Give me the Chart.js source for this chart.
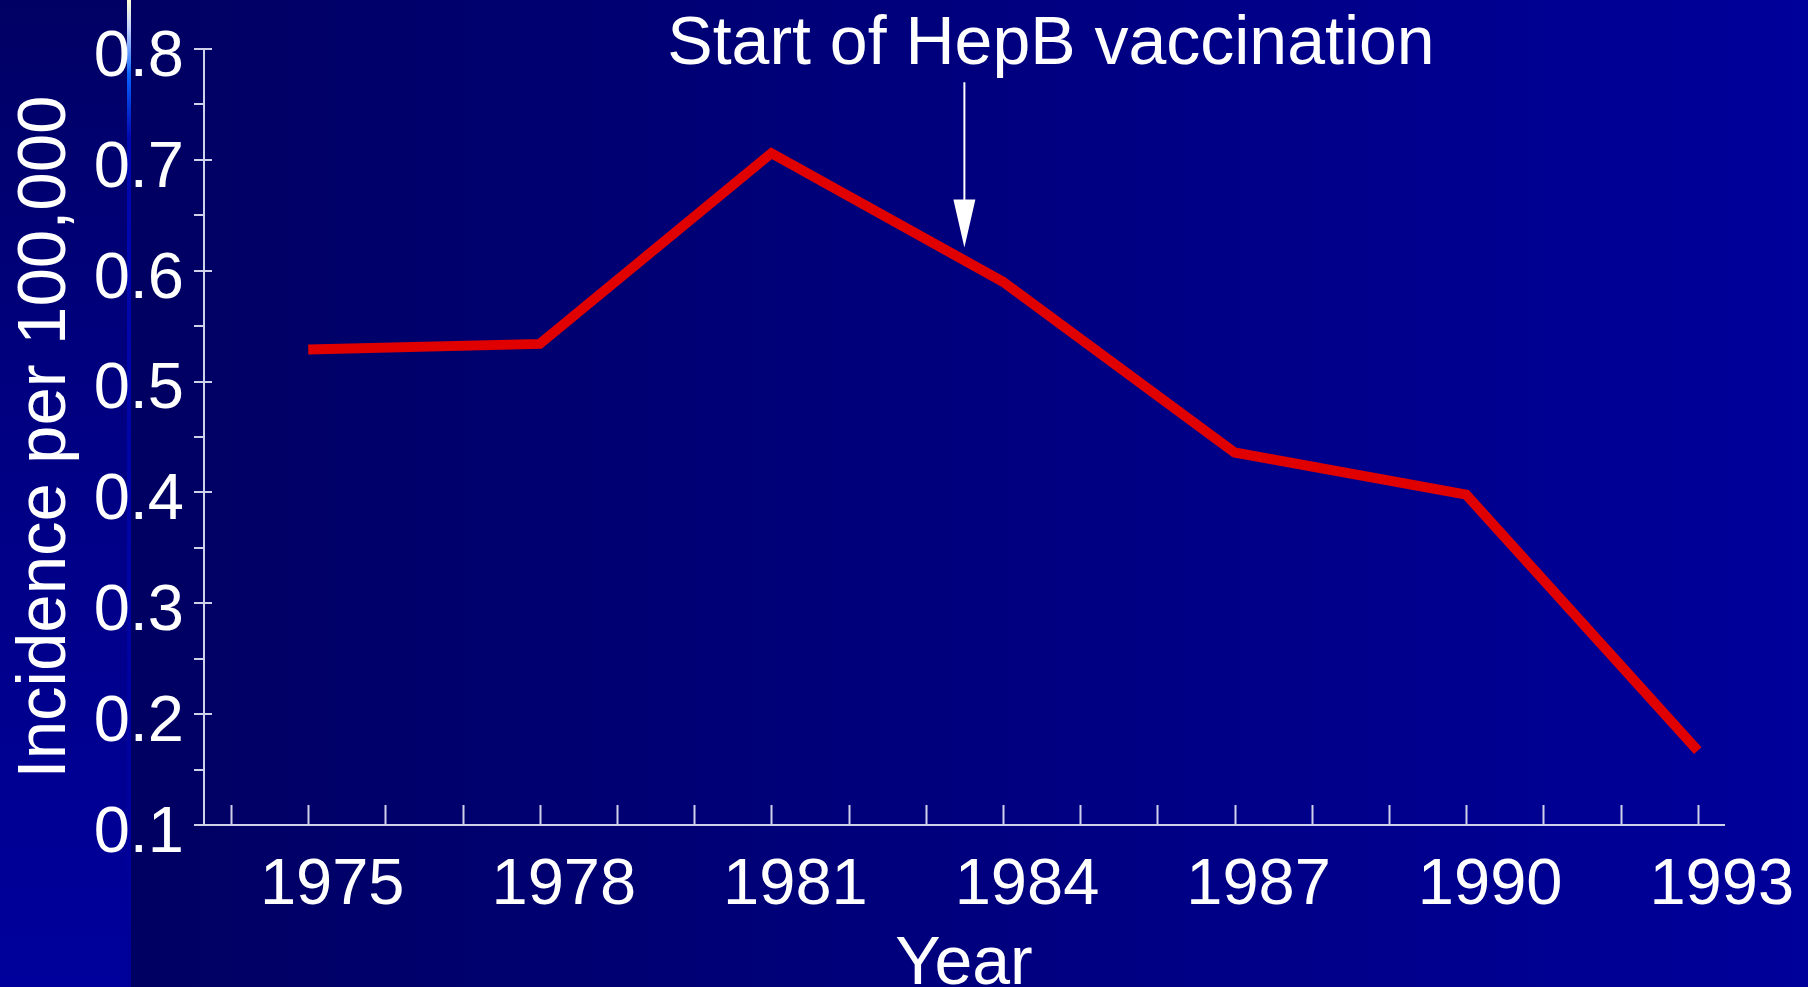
<!DOCTYPE html>
<html>
<head>
<meta charset="utf-8">
<title>Incidence per 100,000</title>
<script src="https://cdn.jsdelivr.net/npm/chart.js@4/dist/chart.umd.min.js"></script>
<style>
  html, body { margin: 0; padding: 0; overflow: hidden; background: #000080; }
  #chart { display: block; }
</style>
</head>
<body>
<canvas id="chart" width="1808" height="987"></canvas>
<script>
// values
const years = [1975, 1978, 1981, 1984, 1987, 1990, 1993];
const incidence = [0.529, 0.534, 0.706, 0.590, 0.436, 0.398, 0.167];
const yTicks = [0.1, 0.2, 0.3, 0.4, 0.5, 0.6, 0.7, 0.8];
const xLabelYears = [1975, 1978, 1981, 1984, 1987, 1990, 1993];

const chartTitle = 'Start of HepB vaccination';
const xTitle = 'Year';
const yTitle = 'Incidence per 100,000';

// the arrow that points at the start of vaccination (in data units)
const arrowYear = 1983.5;
const arrowFrom = 0.770;
const arrowTo = 0.621;

const fontFamily = '"Comic Sans MS", "Liberation Sans", Arial, sans-serif';
const axisColor = '#cfd0ea';

function isMajor(v) {
  return yTicks.some(t => Math.abs(t - v) < 1e-6);
}

// slide background: gradient panel, left band, thin glowing line
const slideBackground = {
  id: 'slideBackground',
  beforeDraw(chart) {
    const ctx = chart.ctx;
    const w = chart.width, h = chart.height;
    ctx.save();
    let g = ctx.createLinearGradient(128, 0, w, 0);
    g.addColorStop(0, '#000062');
    g.addColorStop(1, '#00009a');
    ctx.fillStyle = g;
    ctx.fillRect(0, 0, w, h);

    g = ctx.createLinearGradient(0, 0, 0, h);
    g.addColorStop(0, '#000064');
    g.addColorStop(0.4, '#000080');
    g.addColorStop(1, '#00009c');
    ctx.fillStyle = g;
    ctx.fillRect(0, 0, 127, h);

    g = ctx.createLinearGradient(0, 0, 0, h);
    g.addColorStop(0, '#ffffd8');
    g.addColorStop(0.03, '#c0d0ff');
    g.addColorStop(0.075, '#0a64ff');
    g.addColorStop(0.14, '#0008b0');
    g.addColorStop(1, '#000098');
    ctx.fillStyle = g;
    ctx.fillRect(127, 0, 4, h);
    ctx.restore();
  }
};

// inward tick marks, chart title and arrow
const slideMarks = {
  id: 'slideMarks',
  afterDraw(chart) {
    const ctx = chart.ctx;
    const x = chart.scales.x, y = chart.scales.y;
    ctx.save();
    ctx.strokeStyle = axisColor;
    ctx.lineWidth = 2;
    ctx.beginPath();
    x.ticks.forEach(t => {
      if (t.value < x.min || t.value > x.max) return;
      const px = Math.round(x.getPixelForValue(t.value)) + 0.5;
      ctx.moveTo(px, x.top);
      ctx.lineTo(px, x.top - 20);
    });
    y.ticks.forEach(t => {
      if (!isMajor(t.value)) return;
      const py = Math.round(y.getPixelForValue(t.value));
      ctx.moveTo(y.right, py);
      ctx.lineTo(y.right + 8, py);
    });
    ctx.stroke();

    // title
    ctx.fillStyle = '#ffffff';
    ctx.font = '68px ' + fontFamily;
    ctx.textAlign = 'center';
    ctx.textBaseline = 'alphabetic';
    ctx.fillText(chartTitle, 1051, 64);

    // arrow
    const ax = x.getPixelForValue(arrowYear);
    const y0 = y.getPixelForValue(arrowFrom);
    const y1 = y.getPixelForValue(arrowTo);
    ctx.strokeStyle = '#ffffff';
    ctx.lineWidth = 2;
    ctx.beginPath();
    ctx.moveTo(ax, y0);
    ctx.lineTo(ax, y1 - 40);
    ctx.stroke();
    ctx.beginPath();
    ctx.moveTo(ax - 11, y1 - 48);
    ctx.lineTo(ax + 11, y1 - 48);
    ctx.lineTo(ax, y1);
    ctx.closePath();
    ctx.fill();
    ctx.restore();
  }
};

new Chart(document.getElementById('chart'), {
  type: 'line',
  data: {
    datasets: [{
      data: years.map((yr, i) => ({ x: yr, y: incidence[i] })),
      borderColor: '#e00000',
      borderWidth: 10,
      borderJoinStyle: 'miter',
      borderCapStyle: 'butt',
      pointRadius: 0,
      tension: 0,
      fill: false
    }]
  },
  options: {
    responsive: false,
    animation: false,
    events: [],
    layout: { padding: { top: 49, right: 84, left: 0, bottom: 0 } },
    plugins: {
      legend: { display: false },
      tooltip: { enabled: false }
    },
    scales: {
      x: {
        type: 'linear',
        min: 1973.65,
        max: 1993.34,
        afterFit: s => { s.height = 162; },
        grid: { display: false },
        border: { display: true, color: axisColor, width: 2 },
        ticks: {
          stepSize: 1,
          includeBounds: false,
          autoSkip: false,
          maxRotation: 0,
          padding: 14,
          labelOffset: 24,
          color: '#ffffff',
          font: { family: fontFamily, size: 65 },
          callback: v => xLabelYears.includes(v) ? String(v) : ''
        },
        title: {
          display: true,
          text: xTitle,
          color: '#ffffff',
          font: { family: fontFamily, size: 68, lineHeight: 1 },
          padding: { top: 0, bottom: -12 }
        }
      },
      y: {
        min: 0.1,
        max: 0.8,
        afterFit: s => { s.width = 204; },
        grid: { drawOnChartArea: false, tickLength: 10, color: axisColor, lineWidth: 2 },
        border: { display: true, color: axisColor, width: 2 },
        ticks: {
          stepSize: 0.05,
          autoSkip: false,
          padding: 10,
          labelOffset: 9,
          color: '#ffffff',
          font: { family: fontFamily, size: 65 },
          callback: v => isMajor(v) ? v.toFixed(1) : ''
        },
        title: {
          display: true,
          text: yTitle,
          color: '#ffffff',
          font: { family: fontFamily, size: 69, lineHeight: 1.2 },
          padding: { top: 5, bottom: 0 }
        }
      }
    }
  },
  plugins: [slideBackground, slideMarks]
});
</script>
</body>
</html>
